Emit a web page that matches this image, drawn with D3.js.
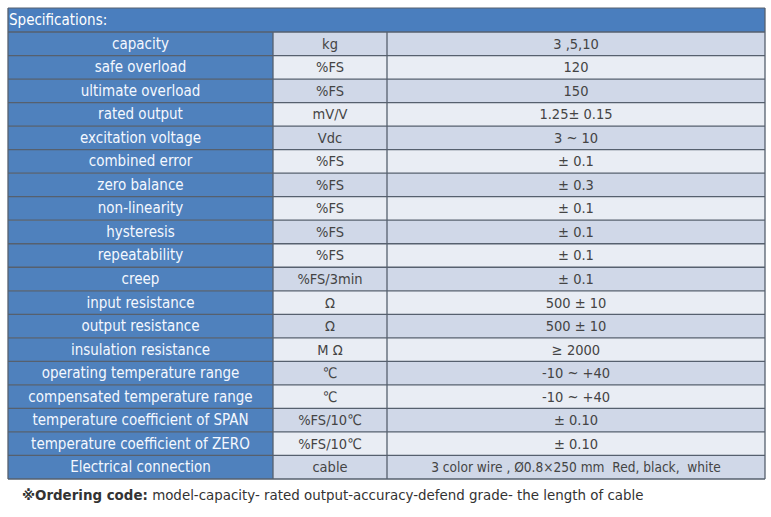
<!DOCTYPE html>
<html>
<head>
<meta charset="utf-8">
<script src="https://cdn.jsdelivr.net/npm/d3@7"></script>
<style>
  html, body { margin: 0; padding: 0; background: #fff; }
  svg text { font-family: "DejaVu Sans Condensed", "DejaVu Sans", sans-serif; white-space: pre; }
</style>
</head>
<body>
<div id="viz"></div>
<script>
var title = "Specifications:";
var params = ["capacity", "safe overload", "ultimate overload", "rated output",
    "excitation voltage", "combined error", "zero balance", "non-linearity",
    "hysteresis", "repeatability", "creep", "input resistance", "output resistance",
    "insulation resistance", "operating temperature range", "compensated temperature range",
    "temperature coefficient of SPAN", "temperature coefficient of ZERO", "Electrical connection"];
var units = ["kg", "%FS", "%FS", "mV/V", "Vdc", "%FS", "%FS", "%FS", "%FS", "%FS",
    "%FS/3min", "Ω", "Ω", "M Ω", "℃", "℃", "%FS/10℃", "%FS/10℃", "cable"];
var values = ["3 ,5,10", "120", "150", "1.25± 0.15", "3 ~ 10", "± 0.1", "± 0.3",
    "± 0.1", "± 0.1", "± 0.1", "± 0.1", "500 ± 10", "500 ± 10", "≥ 2000",
    "-10 ~ +40", "-10 ~ +40", "± 0.10", "± 0.10",
    "3 color wire , Ø0.8×250 mm  Red, black,  white"];
var noteBold = "※Ordering code:";
var noteText = " model-capacity- rated output-accuracy-defend grade- the length of cable";

(function(){
    var canw = 771, canh = 517;
    var x0 = 8, x1 = 765, y0 = 8, headh = 24, y1 = 479;
    var colx = [x0, 273, 387, x1];
    var lineCol = "#56606e";

    var svg = d3.select("#viz").append("svg")
        .attr("width", canw)
        .attr("height", canh);

    var y = d3.scaleBand()
        .domain(d3.range(params.length))
        .range([y0 + headh, y1]);

    // header bar
    svg.append("rect")
        .attr("x", x0).attr("y", y0)
        .attr("width", x1 - x0).attr("height", headh)
        .style("fill", "#4a7ebe");
    svg.append("text")
        .attr("x", x0 + 1).attr("y", y0 + headh / 2 + 5)
        .style("fill", "#fff").style("font-size", "15px")
        .text(title);

    var rows = svg.selectAll("g.row")
        .data(params)
        .enter().append("g")
        .attr("class", "row")
        .attr("transform", function(d, i){ return "translate(0," + y(i) + ")"; });

    rows.append("rect")
        .attr("x", colx[0]).attr("width", colx[1] - colx[0])
        .attr("height", y.bandwidth())
        .style("fill", "#4f81bd");
    rows.append("rect")
        .attr("x", colx[1]).attr("width", colx[3] - colx[1])
        .attr("height", y.bandwidth())
        .style("fill", function(d, i){ return i % 2 ? "#e9edf4" : "#d0d8e8"; });

    var ty = y.bandwidth() / 2 + 5;
    rows.append("text")
        .attr("x", (colx[0] + colx[1]) / 2).attr("y", ty)
        .attr("text-anchor", "middle")
        .style("fill", "#f4f8ff").style("font-size", "15px")
        .text(function(d){ return d; });
    rows.append("text")
        .attr("x", (colx[1] + colx[2]) / 2).attr("y", ty)
        .attr("text-anchor", "middle")
        .style("fill", "#444").style("font-size", "14.5px")
        .text(function(d, i){ return units[i]; });
    rows.append("text")
        .attr("x", (colx[2] + colx[3]) / 2).attr("y", ty)
        .attr("text-anchor", "middle")
        .style("fill", "#444")
        .style("font-size", function(d, i){ return i == values.length - 1 ? "13.6px" : "14.5px"; })
        .text(function(d, i){ return values[i]; });

    // grid lines
    var ys = d3.range(params.length).map(function(i){ return y(i); }).concat([y1]);
    svg.selectAll("line.h")
        .data(ys)
        .enter().append("line")
        .attr("class", "h")
        .attr("x1", x0).attr("x2", x1)
        .attr("y1", function(d){ return d; })
        .attr("y2", function(d){ return d; })
        .style("stroke", lineCol).style("stroke-width", 1.3);
    svg.selectAll("line.v")
        .data(colx)
        .enter().append("line")
        .attr("class", "v")
        .attr("x1", function(d){ return d; }).attr("x2", function(d){ return d; })
        .attr("y1", function(d, i){ return (i == 0 || i == 3) ? y0 : y0 + headh; })
        .attr("y2", y1)
        .style("stroke", lineCol).style("stroke-width", 1.3);
    svg.append("line")
        .attr("x1", x0).attr("x2", x1).attr("y1", y0).attr("y2", y0)
        .style("stroke", lineCol).style("stroke-width", 1);

    var note = svg.append("text")
        .attr("x", 22).attr("y", 500)
        .style("fill", "#333").style("font-size", "14.9px");
    note.append("tspan").style("font-weight", "bold").text(noteBold);
    note.append("tspan").text(noteText);
})();
</script>
</body>
</html>
